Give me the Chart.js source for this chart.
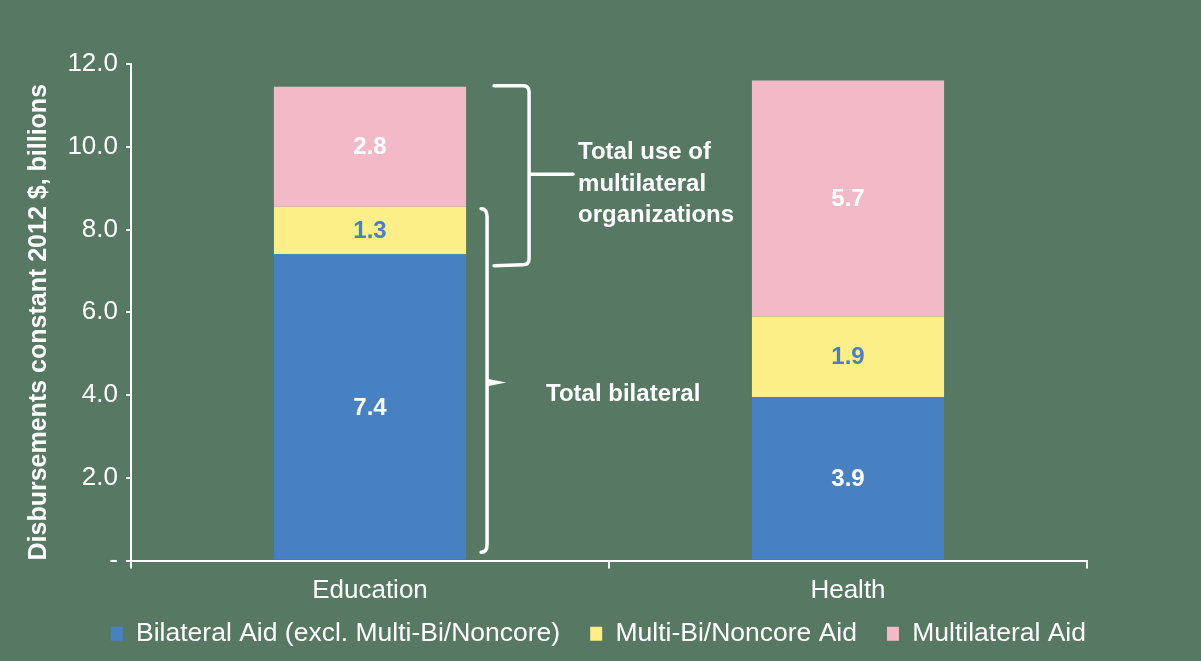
<!DOCTYPE html>
<html>
<head>
<meta charset="utf-8">
<script src="https://cdn.jsdelivr.net/npm/chart.js@4/dist/chart.umd.min.js"></script>
<style>
    html, body { margin: 0; padding: 0; background: #577862; }
    #wrap { width: 1201px; height: 661px; position: relative; }
</style>
</head>
<body>
<div id="wrap"><canvas id="aidChart" width="1201" height="661"></canvas></div>
<script>
// chart data
const categories = ['Education', 'Health'];
const bilateralAid = [7.4, 3.95];
const multiBiAid = [1.15, 1.95];
const multilateralAid = [2.9, 5.7];
// value labels printed on the bars
const bilateralText = ['7.4', '3.9'];
const multiBiText = ['1.3', '1.9'];
const multilateralText = ['2.8', '5.7'];
const yTicks = [0, 2, 4, 6, 8, 10, 12];

const WHITE = '#ffffff';
const FONT = '"Liberation Sans", Arial, sans-serif';

// value labels centered in each segment
const barLabels = {
    id: 'barLabels',
    afterDatasetsDraw(chart) {
        const c = chart.ctx;
        c.save();
        c.font = 'bold 24px ' + FONT;
        c.textAlign = 'center';
        c.textBaseline = 'middle';
        chart.data.datasets.forEach((ds, i) => {
            const meta = chart.getDatasetMeta(i);
            meta.data.forEach((bar, j) => {
                c.fillStyle = ds.labelColor;
                c.fillText(ds.valueText[j], bar.x, (bar.y + bar.base) / 2 + 1);
            });
        });
        c.restore();
    }
};

// nudge the legend row to the right, under the plot
const legendShift = {
    id: 'legendShift',
    afterLayout(chart) {
        chart.legend.left += 29;
        chart.legend.right += 29;
    }
};

// braces + notes next to the Education bar
const braces = {
    id: 'braces',
    afterDraw(chart) {
        const c = chart.ctx;
        const y = chart.scales.y;
        const bar = chart.getDatasetMeta(0).data[0];
        const edge = bar.x + bar.width / 2;
        c.save();
        c.strokeStyle = WHITE;
        c.lineWidth = 3.5;
        c.lineCap = 'round';
        c.lineJoin = 'round';

        // upper bracket: multilateral use
        let top = y.getPixelForValue(11.45) - 1;
        let bot = y.getPixelForValue(7.15);
        let mid = (top + bot) / 2 - 1;
        let x0 = edge + 28, xv = edge + 63, xt = edge + 107;
        c.beginPath();
        c.moveTo(x0, top);
        c.lineTo(xv - 6, top);
        c.quadraticCurveTo(xv, top, xv, top + 6);
        c.lineTo(xv, bot - 6);
        c.quadraticCurveTo(xv, bot, xv - 6, bot);
        c.lineTo(x0, bot + 1);
        c.moveTo(xv, mid);
        c.lineTo(xt, mid);
        c.stroke();

        // lower brace: bilateral
        top = y.getPixelForValue(8.55) + 2;
        bot = y.getPixelForValue(0.2);
        mid = y.getPixelForValue(4.3);
        x0 = edge + 15; xv = edge + 21; xt = edge + 40;
        c.beginPath();
        c.moveTo(x0, top);
        c.quadraticCurveTo(xv, top, xv, top + 8);
        c.lineTo(xv, bot - 8);
        c.quadraticCurveTo(xv, bot, x0, bot);
        c.stroke();
        c.fillStyle = WHITE;
        c.beginPath();
        c.moveTo(xv - 1, mid - 4);
        c.lineTo(xt, mid);
        c.lineTo(xv - 1, mid + 4);
        c.closePath();
        c.fill();

        c.font = 'bold 24px ' + FONT;
        c.textBaseline = 'middle';
        c.textAlign = 'left';
        const notesTop = y.getPixelForValue(11.45);
        c.fillText('Total use of', edge + 112, notesTop + 66);
        c.fillText('multilateral', edge + 112, notesTop + 98);
        c.fillText('organizations', edge + 112, notesTop + 129);
        c.fillText('Total bilateral', edge + 80, y.getPixelForValue(4.0) - 1);
        c.restore();
    }
};

new Chart(document.getElementById('aidChart'), {
    type: 'bar',
    data: {
        labels: categories,
        datasets: [{
            label: 'Bilateral Aid (excl. Multi-Bi/Noncore)',
            data: bilateralAid,
            valueText: bilateralText,
            labelColor: WHITE,
            backgroundColor: '#4781c1'
        }, {
            label: 'Multi-Bi/Noncore Aid',
            data: multiBiAid,
            valueText: multiBiText,
            labelColor: '#4a7fc2',
            backgroundColor: '#fdef88'
        }, {
            label: 'Multilateral Aid',
            data: multilateralAid,
            valueText: multilateralText,
            labelColor: WHITE,
            backgroundColor: '#f2bac6'
        }]
    },
    options: {
        responsive: false,
        animation: false,
        categoryPercentage: 1,
        barPercentage: 0.402,
        layout: {
            padding: { top: 64, left: 10, right: 114, bottom: 4 }
        },
        plugins: {
            tooltip: { enabled: false },
            legend: {
                position: 'bottom',
                align: 'end',
                labels: {
                    color: WHITE,
                    boxWidth: 12,
                    boxHeight: 14,
                    padding: 30,
                    font: { family: FONT, size: 26.5 }
                }
            }
        },
        scales: {
            x: {
                stacked: true,
                border: { color: WHITE, width: 2 },
                grid: {
                    offset: true,
                    drawOnChartArea: false,
                    color: WHITE,
                    lineWidth: 2,
                    tickLength: 8
                },
                ticks: {
                    color: WHITE,
                    padding: 7,
                    font: { family: FONT, size: 26 }
                },
                afterFit(scale) {
                    scale.height = 30;
                    // labels hang below the squeezed axis box, so don't clip them
                    scale._computeLabelArea = () => undefined;
                }
            },
            y: {
                stacked: true,
                min: 0,
                max: 12,
                afterBuildTicks(scale) {
                    scale.ticks = yTicks.map(v => ({ value: v }));
                },
                border: { color: WHITE, width: 2 },
                grid: {
                    drawOnChartArea: false,
                    color: WHITE,
                    lineWidth: 2,
                    tickLength: 5
                },
                ticks: {
                    color: WHITE,
                    padding: 8,
                    font: { family: FONT, size: 26 },
                    callback: v => v === 0 ? '-' : v.toFixed(1)
                },
                title: {
                    display: true,
                    text: 'Disbursements constant 2012 $, billions',
                    color: WHITE,
                    align: 'start',
                    padding: { top: 14, bottom: 0 },
                    font: { family: FONT, size: 25, weight: 'bold' }
                },
                afterFit(scale) { scale.width = 121; }
            }
        }
    },
    plugins: [barLabels, legendShift, braces]
});
</script>
</body>
</html>
